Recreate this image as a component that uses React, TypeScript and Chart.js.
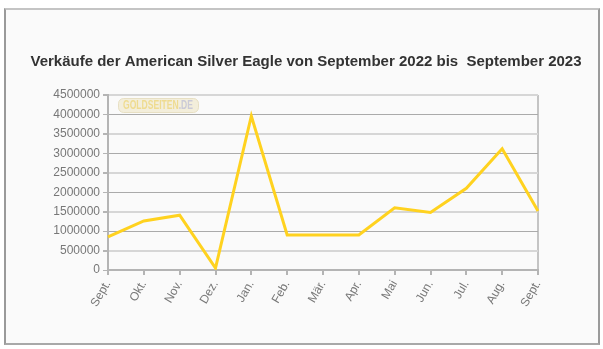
import React, { useEffect, useRef } from "react";
import { Chart, registerables } from "chart.js";

Chart.register(...registerables);

const categories = ["Sept.", "Okt.", "Nov.", "Dez.", "Jan.", "Feb.", "Mär.", "Apr.", "Mai", "Jun.", "Jul.", "Aug.", "Sept."];
const sales = [850000, 1260000, 1410000, 50000, 3960000, 900000, 900000, 900000, 1600000, 1480000, 2100000, 3120000, 1520000];
const titleText = "Verkäufe der American Silver Eagle von September 2022 bis  September 2023";
const yMax = 4500000;
const yStep = 500000;
const logoMain = "GOLDSEITEN";
const logoSuffix = ".DE";

const overlayPlugin = {
  id: "overlay",
  beforeDatasetsDraw(chart: any) {
    const { ctx, chartArea } = chart;
    ctx.save();
    const x = chartArea.left + 10;
    const y = chartArea.top + 3;
    const w = 80;
    const h = 14;
    ctx.fillStyle = "rgba(240, 232, 205, 0.7)";
    ctx.strokeStyle = "rgba(225, 215, 180, 0.7)";
    ctx.lineWidth = 1;
    ctx.beginPath();
    (ctx as any).roundRect(x + 0.5, y + 0.5, w, h, 5);
    ctx.fill();
    ctx.stroke();
    ctx.font = "bold 12px 'Liberation Sans', Arial, sans-serif";
    ctx.textBaseline = "middle";
    const mw = ctx.measureText(logoMain).width;
    const sw = ctx.measureText(logoSuffix).width;
    const target = 70;
    const sx = target / (mw + sw);
    ctx.translate(x + 5, y + h / 2 + 1);
    ctx.scale(sx, 1);
    ctx.fillStyle = "rgba(238, 218, 140, 0.95)";
    ctx.fillText(logoMain, 0, 0);
    ctx.fillStyle = "rgba(200, 200, 215, 0.95)";
    ctx.fillText(logoSuffix, mw, 0);
    ctx.restore();
  },
  afterDraw(chart: any) {
    const { ctx } = chart;
    ctx.save();
    ctx.font = "bold 15px 'Liberation Sans', Arial, sans-serif";
    ctx.fillStyle = "#333333";
    ctx.textAlign = "center";
    ctx.textBaseline = "middle";
    ctx.fillText(titleText, 306, 62);
    ctx.restore();
  },
};

export default function App() {
  const canvasRef = useRef<HTMLCanvasElement | null>(null);

  useEffect(() => {
    document.body.style.margin = "0";
    const canvas = canvasRef.current;
    if (!canvas) return;
    const last = categories.length - 1;
    const chart = new Chart(canvas, {
      type: "line",
      data: {
        labels: categories,
        datasets: [
          {
            data: sales,
            borderColor: "#ffd21f",
            borderWidth: 3,
            pointRadius: 0,
            tension: 0,
            fill: false,
          },
        ],
      },
      options: {
        animation: false,
        responsive: false,
        devicePixelRatio: 1,
        layout: { padding: { top: 95, right: 65, bottom: 0, left: 0 } },
        plugins: {
          legend: { display: false },
          title: { display: false },
          tooltip: { enabled: false },
        },
        scales: {
          x: {
            offset: false,
            afterFit(scale: any) {
              scale.height = 79;
            },
            grid: {
              display: true,
              drawOnChartArea: true,
              color: (c: any) => (c.index === last ? "#c4c4c4" : "rgba(0,0,0,0)"),
              tickColor: "#b4b4b4",
              tickLength: 5,
              lineWidth: 2,
            },
            border: { display: true, color: "#b4b4b4", width: 2 },
            ticks: {
              color: "#777777",
              font: { size: 12, family: "'Liberation Sans', Arial, sans-serif" },
              minRotation: 60,
              maxRotation: 60,
              padding: 3,
              autoSkip: false,
            },
          },
          y: {
            min: 0,
            max: yMax,
            afterFit(scale: any) {
              scale.width = 108;
            },
            grid: {
              color: (c: any) =>
                c.tick && c.tick.value % 1000000 === 0 ? "#aaaaaa" : "#d6d6d6",
              lineWidth: (c: any) => (c.tick && c.tick.value % 1000000 === 0 ? 1 : 2),
              tickColor: "#b4b4b4",
              tickLength: 5,
            },
            border: { display: true, color: "#b4b4b4", width: 2 },
            ticks: {
              stepSize: yStep,
              color: "#777777",
              font: { size: 12, family: "'Liberation Sans', Arial, sans-serif" },
              padding: 3,
              callback: (v: any) => String(v),
            },
          },
        },
      },
      plugins: [overlayPlugin],
    });
    return () => chart.destroy();
  }, []);

  return (
    <div style={{ position: "relative", width: 603, height: 349, background: "#ffffff" }}>
      <div
        style={{
          position: "absolute",
          left: 4,
          top: 8,
          width: 592,
          height: 333,
          background: "#fafafa",
          borderTop: "2px solid #c4c4c4",
          borderLeft: "2px solid #9a9a9a",
          borderRight: "2px solid #9a9a9a",
          borderBottom: "2px solid #a8a8a8",
        }}
      />
      <canvas
        ref={canvasRef}
        width={603}
        height={349}
        style={{ position: "absolute", left: 0, top: 0, width: 603, height: 349 }}
      />
    </div>
  );
}
